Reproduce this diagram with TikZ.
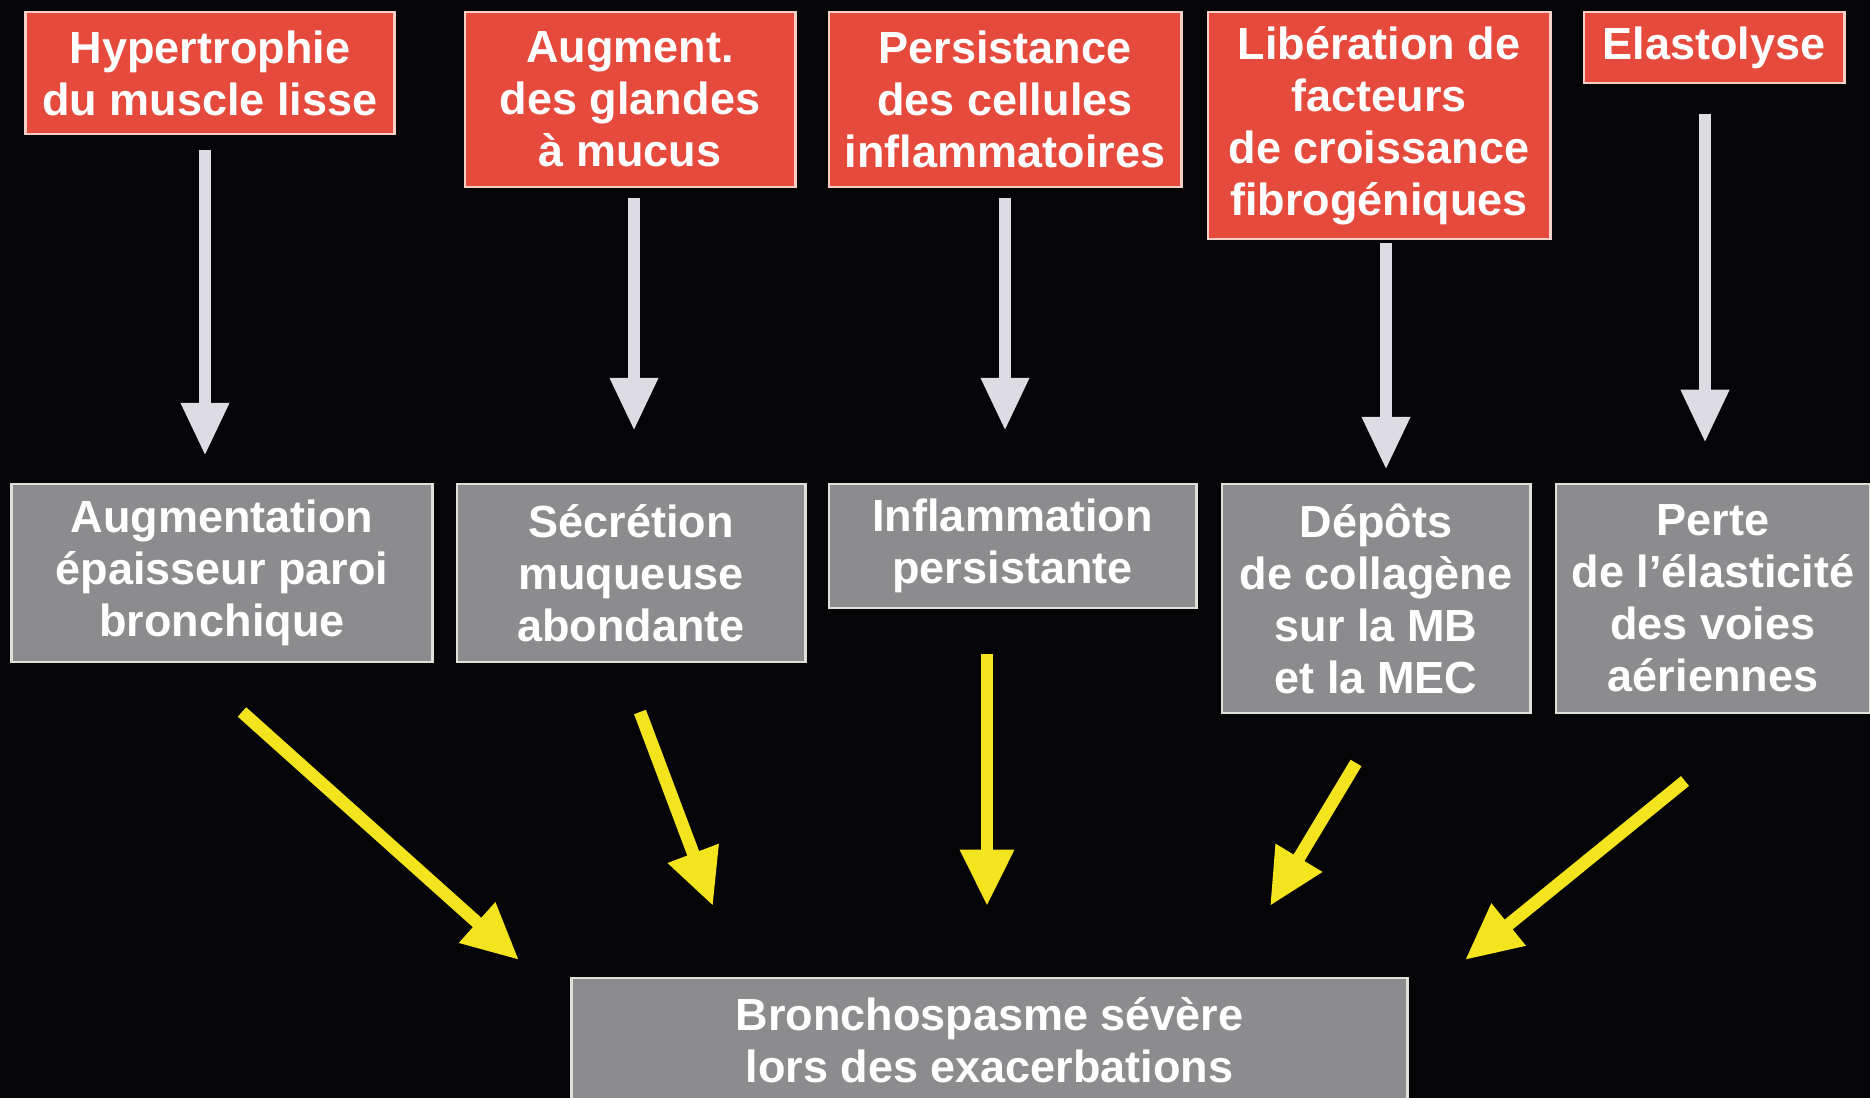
\documentclass[tikz,border=0pt]{standalone}
\usepackage{fontspec}
\setmainfont{Liberation Sans}
\usepackage{xcolor}
\usetikzlibrary{arrows.meta, calc}
\definecolor{bgblack}{HTML}{050507}
\definecolor{causered}{HTML}{E64A3C}
\definecolor{rededge}{HTML}{F6CFC6}
\definecolor{effectgray}{HTML}{8C8B8E}
\definecolor{grayedge}{HTML}{E2DED8}
\definecolor{arrowwhite}{HTML}{DCDCE2}
\definecolor{arrowyellow}{HTML}{F4E41E}

\begin{document}
\begin{tikzpicture}[x=0.01cm, y=-0.01cm,
    cause/.style={rectangle, draw=rededge, fill=causered, line width=0.8pt, inner sep=0pt, align=center, text=white, font=\bfseries\fontsize{12.8}{14.8}\selectfont},
    effect/.style={cause, draw=grayedge, fill=effectgray},
    warr/.style={arrowwhite, line width=3.2pt, -{Triangle[width=13pt, length=15pt]}},
    yarr/.style={arrowyellow, line width=3.6pt, -{Triangle[width=14.5pt, length=16pt]}}]
    \useasboundingbox (0,0) rectangle (1870,1098);
    \fill[bgblack] (0,0) rectangle (1870,1098);
    % causes
    \node[cause, minimum width=3.68cm, minimum height=1.22cm] (t1) at (210,73) {Hypertrophie\\du muscle lisse};
    \node[cause, minimum width=3.30cm, minimum height=1.75cm] (t2) at (630,99.5) {Augment.\\des glandes\\à mucus};
    \node[cause, minimum width=3.52cm, minimum height=1.75cm] (t3) at (1005,99.5) {Persistance\\des cellules\\inflammatoires};
    \node[cause, minimum width=3.42cm, minimum height=2.27cm] (t4) at (1379,125.5) {Libération de\\facteurs\\de croissance\\fibrogéniques};
    \node[cause, minimum width=2.60cm, minimum height=0.71cm] (t5) at (1714,47.5) {Elastolyse};
    % effects
    \node[effect, minimum width=4.20cm, minimum height=1.78cm] (m1) at (222,573) {Augmentation\\épaisseur paroi\\bronchique};
    \node[effect, minimum width=3.48cm, minimum height=1.78cm] (m2) at (631,573) {Sécrétion\\muqueuse\\abondante};
    \node[effect, minimum width=3.67cm, minimum height=1.24cm] (m3) at (1012.5,546) {Inflammation\\persistante};
    \node[effect, minimum width=3.08cm, minimum height=2.29cm] (m4) at (1376,598.5) {Dépôts\\de collagène\\sur la MB\\et la MEC};
    \node[effect, minimum width=3.14cm, minimum height=2.29cm] (m5) at (1713,598.5) {Perte\\de l’élasticité\\des voies\\aériennes};
    % outcome
    \node[effect, minimum width=8.35cm, minimum height=1.24cm] (out) at (989.5,1040) {Bronchospasme sévère\\lors des exacerbations};
    % white arrows
    \draw[warr, shorten <=0.15cm, shorten >=0.27cm] ($(t1.south)+(-5,0)$) -- ($(t1.south |- m1.north)+(-5,0)$);
    \draw[warr, shorten <=0.10cm, shorten >=0.52cm] ($(t2.south)+(4,0)$) -- ($(t2.south |- m2.north)+(4,0)$);
    \draw[warr, shorten <=0.10cm, shorten >=0.52cm] (t3.south) -- (t3.south |- m3.north);
    \draw[warr, shorten <=0.03cm, shorten >=0.13cm] ($(t4.south)+(7,0)$) -- ($(t4.south |- m4.north)+(7,0)$);
    \draw[warr, shorten <=0.30cm, shorten >=0.40cm] ($(t5.south)+(-9,0)$) -- ($(t5.south |- m5.north)+(-9,0)$);
    % yellow arrows
    \coordinate (y1a) at (242,712);  \coordinate (y1b) at (519,960);
    \coordinate (y2a) at (640,712);  \coordinate (y2b) at (713,906);
    \coordinate (y3a) at (987,654);  \coordinate (y3b) at (987,906);
    \coordinate (y4a) at (1356,763); \coordinate (y4b) at (1270,906);
    \coordinate (y5a) at (1685,781); \coordinate (y5b) at (1465,960);
    \draw[yarr] (y1a) -- (y1b);
    \draw[yarr] (y2a) -- (y2b);
    \draw[yarr] (y3a) -- (y3b);
    \draw[yarr] (y4a) -- (y4b);
    \draw[yarr] (y5a) -- (y5b);
\end{tikzpicture}
\end{document}
